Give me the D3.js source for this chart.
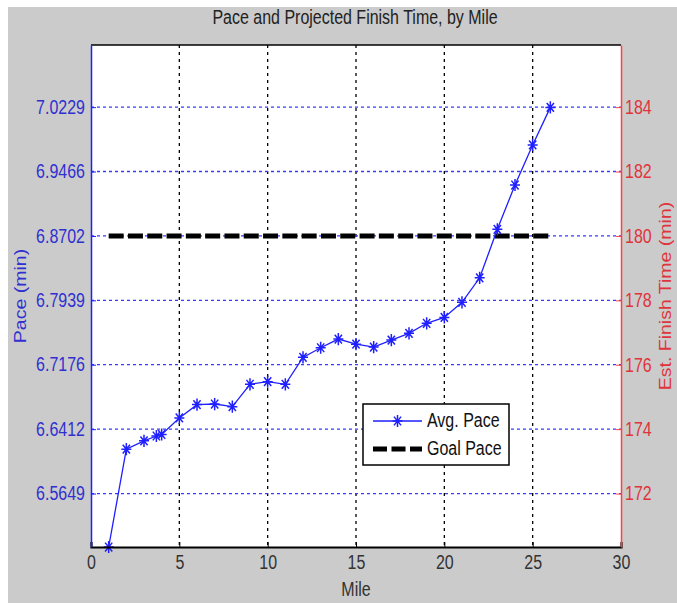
<!DOCTYPE html>
<html>
<head>
<meta charset="utf-8">
<script src="https://cdn.jsdelivr.net/npm/d3@7"></script>
<style>
  body { margin: 0; background: #fff; }
  svg { display: block; font-family: "Liberation Sans", Arial, sans-serif; }
</style>
</head>
<body>
<div id="chart"></div>
<script>
// miles where the average pace was logged (there is an extra reading near mile 4)
const miles = [1, 2, 3, 3.7, 4, 5, 6, 7, 8, 9, 10, 11, 12, 13, 14, 15, 16, 17, 18, 19, 20, 21, 22, 23, 24, 25, 26];
const avgPace = [6.5015, 6.6175, 6.6274, 6.6331, 6.6349, 6.6545, 6.6703, 6.6710, 6.6679, 6.6944, 6.6975, 6.6944,
  6.7263, 6.7377, 6.7480, 6.7420, 6.7385, 6.7468, 6.7548, 6.7667, 6.7737, 6.7916, 6.8206, 6.8781, 6.9306, 6.9781, 7.0226];
const goalMiles = [1, 26];
const goalPace = [6.8702, 6.8702];
const mileTicks = [0, 5, 10, 15, 20, 25, 30];
const timeTicks = [172, 174, 176, 178, 180, 182, 184];
const paceTicks = ["6.5649", "6.6412", "6.7176", "6.7939", "6.8702", "6.9466", "7.0229"];
const marathon = 26.2;
const timeDomain = [170.34, 185.93];

const W = 677, H = 603;
const plot = { left: 91, right: 621, top: 45, bottom: 547 };
const sy = 1.22; // the source picture is stretched vertically
const blue = "#1f1fff", blueText = "#3030d0", red = "#ff4040", redText = "#e0333b";

const svg = d3.select("#chart").append("svg")
    .attr("width", W)
    .attr("height", H);

svg.append("rect")
    .attr("x", 8).attr("y", 7)
    .attr("width", W - 8).attr("height", H - 7)
    .attr("fill", "#cbcbcb");

svg.append("rect")
    .attr("x", plot.left).attr("y", plot.top)
    .attr("width", plot.right - plot.left).attr("height", plot.bottom - plot.top)
    .attr("fill", "#fff");

const x = d3.scaleLinear().domain([0, 30]).range([plot.left, plot.right]);
const yTime = d3.scaleLinear().domain(timeDomain).range([plot.bottom, plot.top]);
const yPace = d3.scaleLinear().domain(timeDomain.map(t => t / marathon)).range([plot.bottom, plot.top]);

// grid
svg.append("g")
    .selectAll("line")
    .data(mileTicks.slice(1, -1))
    .enter()
    .append("line")
    .attr("x1", d => x(d)).attr("x2", d => x(d))
    .attr("y1", plot.top).attr("y2", plot.bottom)
    .attr("stroke", "#000")
    .attr("stroke-width", 1.3)
    .attr("stroke-dasharray", "3,4");

svg.append("g")
    .selectAll("line")
    .data(paceTicks.map(Number))
    .enter()
    .append("line")
    .attr("x1", plot.left).attr("x2", plot.right)
    .attr("y1", d => yPace(d)).attr("y2", d => yPace(d))
    .attr("stroke", "#3a3aff")
    .attr("stroke-width", 1.3)
    .attr("stroke-dasharray", "3,3");

// goal pace
const goal = goalMiles.map((m, i) => [m, goalPace[i]]);
svg.append("path")
    .datum(goal)
    .attr("fill", "none")
    .attr("stroke", "#000")
    .attr("stroke-width", 5)
    .attr("stroke-dasharray", "15,4.3")
    .attr("d", d3.line().x(d => x(d[0])).y(d => yPace(d[1])));

// average pace
const pts = miles.map((m, i) => [m, avgPace[i]]);
svg.append("path")
    .datum(pts)
    .attr("fill", "none")
    .attr("stroke", blue)
    .attr("stroke-width", 1.3)
    .attr("d", d3.line().x(d => x(d[0])).y(d => yPace(d[1])));

function star(r) {
    const ry = r * sy, d = r * 0.72, dy = d * sy;
    return `M${-r},0L${r},0M0,${-ry}L0,${ry}M${-d},${-dy}L${d},${dy}M${-d},${dy}L${d},${-dy}`;
}

svg.append("g")
    .selectAll("path")
    .data(pts)
    .enter()
    .append("path")
    .attr("transform", d => `translate(${x(d[0])},${yPace(d[1])})`)
    .attr("d", star(5))
    .attr("stroke", blue)
    .attr("stroke-width", 1.5);

// axes
function stretchText(sel) {
    sel.selectAll("text").attr("transform", `scale(1,${sy})`).attr("font-size", 16);
}

const xAxis = svg.append("g")
    .attr("transform", `translate(0,${plot.bottom})`)
    .call(d3.axisBottom(x).tickValues(mileTicks).tickSize(-5).tickPadding(10));
xAxis.select(".domain").attr("stroke", "#000").attr("stroke-width", 2.2);
xAxis.selectAll("line").attr("stroke", "#000");
xAxis.selectAll("text").attr("fill", "#333").attr("font-family", null);
stretchText(xAxis);
xAxis.selectAll("text").attr("y", 7);

svg.append("line")
    .attr("x1", plot.left).attr("x2", plot.right)
    .attr("y1", plot.top).attr("y2", plot.top)
    .attr("stroke", "#000").attr("stroke-width", 1.5);

const leftAxis = svg.append("g")
    .attr("transform", `translate(${plot.left},0)`)
    .call(d3.axisLeft(yPace)
        .tickValues(paceTicks.map(Number))
        .tickFormat((d, i) => paceTicks[i])
        .tickSize(-5).tickPadding(6)
        .tickSizeOuter(0));
leftAxis.select(".domain").attr("stroke", blue).attr("stroke-width", 1.5);
leftAxis.selectAll("line").attr("stroke", blue);
leftAxis.selectAll("text").attr("fill", blueText).attr("font-family", null).attr("x", -6);
stretchText(leftAxis);

const rightAxis = svg.append("g")
    .attr("transform", `translate(${plot.right},0)`)
    .call(d3.axisRight(yTime)
        .tickValues(timeTicks)
        .tickSize(-5).tickPadding(4)
        .tickSizeOuter(0));
rightAxis.select(".domain").attr("stroke", red).attr("stroke-width", 1.5);
rightAxis.selectAll("line").attr("stroke", red);
rightAxis.selectAll("text").attr("fill", redText).attr("font-family", null).attr("x", 4);
stretchText(rightAxis);

// titles
function label(text, tx, ty, rot, color) {
    const t = rot ? `translate(${tx},${ty}) rotate(-90) scale(${sy},1)` : `translate(${tx},${ty}) scale(1,${sy})`;
    svg.append("text")
        .attr("transform", t)
        .attr("text-anchor", "middle")
        .attr("font-size", 16)
        .attr("fill", color)
        .text(text);
}

label("Pace and Projected Finish Time, by Mile", 355, 24, false, "#222");
label("Mile", 356, 596, false, "#333");
label("Pace (min)", 26, 296, true, blueText);
label("Est. Finish Time (min)", 671, 296, true, redText);

// legend
const lg = svg.append("g").attr("transform", "translate(363,404)");
lg.append("rect")
    .attr("width", 146).attr("height", 61)
    .attr("fill", "#fff")
    .attr("stroke", "#000").attr("stroke-width", 1.5);
lg.append("line")
    .attr("x1", 10).attr("x2", 59).attr("y1", 17).attr("y2", 17)
    .attr("stroke", blue).attr("stroke-width", 1.3);
lg.append("path")
    .attr("transform", "translate(34.5,17)")
    .attr("d", star(5))
    .attr("stroke", blue).attr("stroke-width", 1.5);
lg.append("line")
    .attr("x1", 10).attr("x2", 59).attr("y1", 45).attr("y2", 45)
    .attr("stroke", "#000").attr("stroke-width", 5)
    .attr("stroke-dasharray", "14,4.5");
lg.selectAll(".lt")
    .data(["Avg. Pace", "Goal Pace"])
    .enter()
    .append("text")
    .attr("class", "lt")
    .attr("transform", (d, i) => `translate(64,${23 + i * 28}) scale(1,${sy})`)
    .attr("font-size", 16)
    .attr("fill", "#111")
    .text(d => d);
</script>
</body>
</html>
